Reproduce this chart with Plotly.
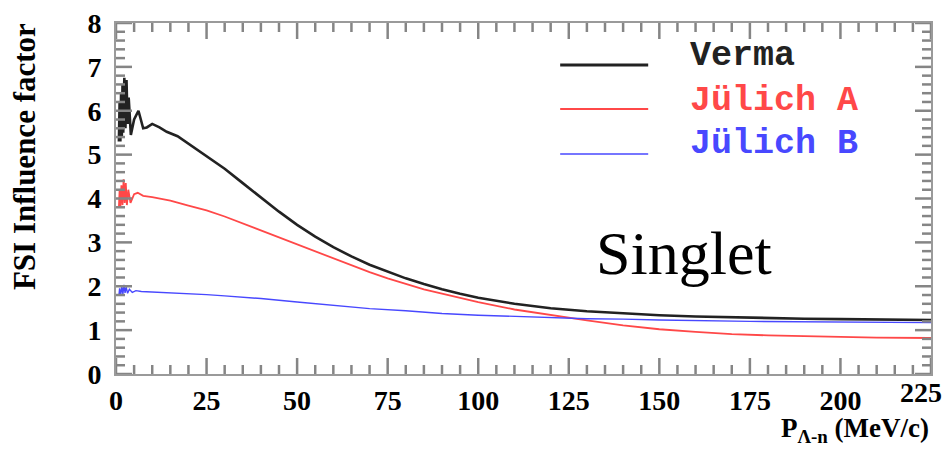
import plotly.graph_objects as go

# ---- data ----
verma_x = [0.8, 1.0, 1.2, 1.4, 1.6, 1.8, 2.0, 2.3, 2.6, 2.9, 3.2, 3.5, 4.1, 5.0, 6.2, 7.5, 8.5, 10, 12, 14, 17, 20,
           25, 30, 35, 40, 45, 50, 55, 60, 65, 70, 75, 80, 85, 90, 95, 100, 110, 120, 130, 140, 150, 160, 170,
           180, 190, 200, 210, 225]
verma_y = [5.3, 6.2, 5.3, 6.4, 5.4, 6.6, 5.5, 6.75, 5.6, 6.7, 5.7, 6.3, 5.45, 5.8, 6.0, 5.6, 5.62, 5.7, 5.62, 5.52,
           5.42, 5.25, 4.98, 4.68, 4.35, 4.02, 3.7, 3.4, 3.13, 2.89, 2.68, 2.49, 2.33, 2.18, 2.05, 1.93, 1.83, 1.74,
           1.6, 1.5, 1.43, 1.38, 1.34, 1.31, 1.29, 1.27, 1.26, 1.25, 1.24, 1.23]

julA_x = [0.8, 1.0, 1.2, 1.5, 1.8, 2.1, 2.4, 2.7, 3.0, 3.4, 4.0, 5.0, 6.0, 7.5, 10, 12, 15, 20, 25, 30, 35, 40,
          45, 50, 55, 60, 65, 70, 75, 80, 85, 90, 95, 100, 110, 120, 130, 140, 150, 160, 170, 180, 190, 200,
          210, 225]
julA_y = [3.8, 4.2, 3.8, 4.3, 3.85, 4.44, 3.9, 4.35, 3.85, 4.2, 3.9, 4.1, 4.13, 4.06, 4.03, 4.0, 3.95, 3.84, 3.73,
          3.59, 3.43, 3.27, 3.11, 2.95, 2.79, 2.63, 2.47, 2.32, 2.18, 2.05, 1.93, 1.83, 1.73, 1.64, 1.47, 1.34, 1.22,
          1.11, 1.02, 0.96, 0.91, 0.88, 0.86, 0.84, 0.83, 0.82]

julB_x = [0.8, 1.0, 1.3, 1.6, 1.9, 2.2, 2.5, 2.8, 3.2, 3.7, 4.5, 5.5, 7, 10, 15, 20, 25, 30, 40, 50, 60, 70, 80,
          90, 100, 110, 120, 130, 140, 150, 175, 200, 225]
julB_y = [1.78, 1.95, 1.8, 2.0, 1.82, 2.03, 1.85, 1.98, 1.84, 1.93, 1.86, 1.9, 1.88, 1.87, 1.85, 1.83, 1.81, 1.78,
          1.72, 1.64, 1.56, 1.49, 1.44, 1.38, 1.34, 1.31, 1.28, 1.26, 1.25, 1.23, 1.2, 1.18, 1.17]

series_names = ["Verma", "Jülich A", "Jülich B"]
series_colors = ["#222222", "#ff4848", "#4848ff"]
x_ticks = [0, 25, 50, 75, 100, 125, 150, 175, 200, 225]
x_tick_text = ["0", "25", "50", "75", "100", "125", "150", "175", "200", ""]
y_ticks = [0, 1, 2, 3, 4, 5, 6, 7, 8]
x_minor_step = 5
y_minor_step = 0.2

fig = go.Figure()
for xs, ys, c, w in [(verma_x, verma_y, series_colors[0], 2.6),
                     (julA_x, julA_y, series_colors[1], 1.8),
                     (julB_x, julB_y, series_colors[2], 1.4)]:
    fig.add_trace(go.Scatter(x=xs, y=ys, mode="lines", line=dict(color=c, width=w), showlegend=False))

axis_col = "#9a9a9a"
tick_col = "#858585"
tickfont = dict(family="Liberation Serif", size=28, color="black", weight="bold")

W, H = 942, 451
M_L, M_R, M_T, M_B = 116, 11, 23, 77
plot_w = W - M_L - M_R
plot_h = H - M_T - M_B

fig.update_layout(
    width=W, height=H,
    margin=dict(l=M_L, r=M_R, t=M_T, b=M_B, autoexpand=False),
    paper_bgcolor="white", plot_bgcolor="white",
    xaxis=dict(range=[0, 225], tickmode="array", tickvals=x_ticks, ticktext=x_tick_text, ticks="",
               showline=True, linecolor=axis_col, linewidth=2, mirror=True, automargin=False,
               showgrid=False, zeroline=False, tickfont=tickfont),
    yaxis=dict(range=[0, 8], tickmode="array", tickvals=y_ticks, ticks="", automargin=False,
               showline=True, linecolor=axis_col, linewidth=2, mirror=True,
               showgrid=False, zeroline=False, tickfont=tickfont, ticklabelstandoff=7),
)

# inside tick marks on all four sides, placed at the tick values (lengths in plot fractions)
tick_line = dict(color=tick_col, width=2.5)
x_minor = [i * x_minor_step for i in range(int(225 / x_minor_step) + 1)]
y_minor = [round(i * y_minor_step, 4) for i in range(int(round(8 / y_minor_step)) + 1)]
for t in x_minor:
    ln = (16 if t in x_ticks else 9) / plot_h
    fig.add_shape(type="line", xref="x", yref="paper", x0=t, x1=t, y0=0, y1=ln, line=tick_line,
                  layer="above")
    fig.add_shape(type="line", xref="x", yref="paper", x0=t, x1=t, y0=1, y1=1 - ln, line=tick_line,
                  layer="above")
for t in y_minor:
    ln = (16 if any(abs(t - v) < 1e-6 for v in y_ticks) else 9) / plot_w
    fig.add_shape(type="line", yref="y", xref="paper", y0=t, y1=t, x0=0, x1=ln, line=tick_line,
                  layer="above")
    fig.add_shape(type="line", yref="y", xref="paper", y0=t, y1=t, x0=1, x1=1 - ln, line=tick_line,
                  layer="above")

# last x tick label shifted left so it stays inside the page, as in the reference
fig.add_annotation(xref="x", yref="paper", x=x_ticks[-1], y=-0.004, text=str(x_ticks[-1]), showarrow=False,
                   xanchor="right", yanchor="top", xshift=13, font=tickfont)

# legend drawn manually
leg_line_y = [0.880, 0.755, 0.627]
leg_text_y = [0.905, 0.778, 0.655]
leg_widths = [3, 2, 1.5]
for name, c, ly, ty, w in zip(series_names, series_colors, leg_line_y, leg_text_y, leg_widths):
    fig.add_shape(type="line", xref="paper", yref="paper", x0=0.545, x1=0.653, y0=ly, y1=ly,
                  line=dict(color=c, width=w))
    fig.add_annotation(xref="paper", yref="paper", x=0.702, y=ty, text=name, showarrow=False,
                       xanchor="left", yanchor="middle",
                       font=dict(family="Liberation Mono", size=35, color=c, weight="bold"))

fig.add_annotation(xref="paper", yref="paper", x=0.697, y=0.345, text="Singlet", showarrow=False,
                   xanchor="center", yanchor="middle",
                   font=dict(family="Liberation Serif", size=62, color="black"))

fig.add_annotation(xref="paper", yref="paper", x=1.0, y=-0.16, text="<b>P<sub>Λ-n</sub> (MeV/c)</b>",
                   showarrow=False, xanchor="right", yanchor="middle",
                   font=dict(family="Liberation Serif", size=27, color="black"))

fig.add_annotation(xref="paper", yref="paper", x=-0.112, y=0.62, text="<b>FSI Influence factor</b>",
                   showarrow=False, xanchor="center", yanchor="middle", textangle=-90,
                   font=dict(family="Liberation Serif", size=31, color="black"))

fig.write_html("out.html")
